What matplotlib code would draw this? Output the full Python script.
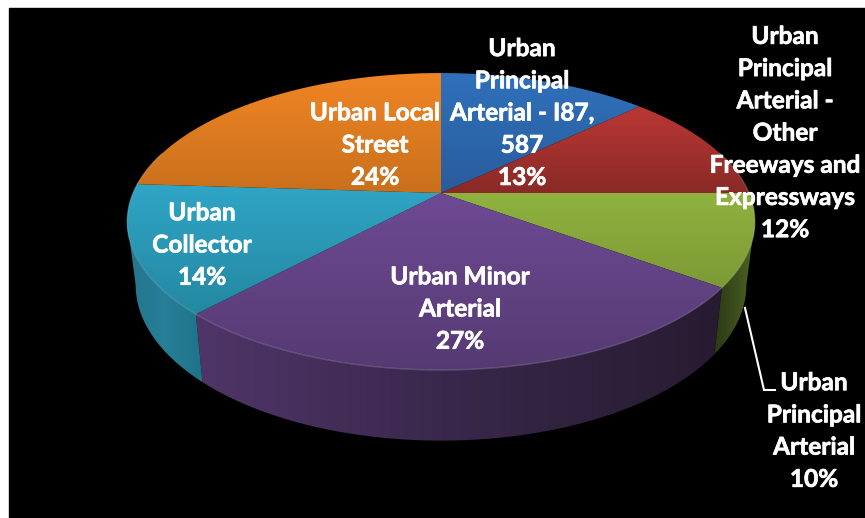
import numpy as np
import matplotlib
matplotlib.use("Agg")
import matplotlib.pyplot as plt
import matplotlib.patheffects as pe
from matplotlib.patches import Polygon

plt.rcParams['font.family'] = ['Lato', 'DejaVu Sans']

# Slices, clockwise from 12 o'clock
names = ["Urban\nPrincipal\nArterial - I87,\n587",
         "Urban\nPrincipal\nArterial -\nOther\nFreeways and\nExpressways",
         "Urban\nPrincipal\nArterial",
         "Urban Minor\nArterial",
         "Urban\nCollector",
         "Urban Local\nStreet"]
values = [13, 12, 10, 27, 14, 24]

# Top face gradients (upper colour, lower colour)
top_colors = [("#2f71bb", "#2a5c9c"), ("#bb3734", "#892a27"), ("#8fb23f", "#7c9a35"),
              ("#6e4a94", "#553a72"), ("#30a5c6", "#2488a2"), ("#f08524", "#c9701c")]
# Side wall shading, left to right
wall_colors = [("#1f4f85", "#1f4f85", "#1f4f85"), ("#7a2422", "#7a2422", "#7a2422"),
               ("#2c3a15", "#3b4d1c", "#4f6621"), ("#4f3568", "#38274a", "#271b30"),
               ("#23758c", "#277f98", "#1e7388"), ("#b5661a", "#b5661a", "#b5661a")]
# Label centres in picture pixels
label_pos = [(522, 113), (785, 133), (814, 431), (460, 309), (202, 245), (375, 145)]

cx, cy = 441, 193
rx, ay, k = 308, 143, 0.192
depth, bottom_scale, bottom_ay = 62, 0.973, 150
LEADER = [(745, 308), (764, 390), (775, 390)]


def top_point(theta):
    w = 1 + k * np.cos(theta)
    return cx + rx * np.sin(theta) / w, cy - ay * np.cos(theta) / w


def bottom_point(theta):
    w = 1 + k * np.cos(theta)
    return cx + rx * bottom_scale * np.sin(theta) / w, cy + depth - bottom_ay * np.cos(theta) / w


def rgb(c):
    return np.array(matplotlib.colors.to_rgb(c))


def gradient_fill(ax, pts, stops, vertical, zorder):
    # image gradient clipped to a polygon
    poly = Polygon(pts, closed=True, facecolor="none", edgecolor="none")
    ax.add_patch(poly)
    x0, x1, y0, y1 = pts[:, 0].min(), pts[:, 0].max(), pts[:, 1].min(), pts[:, 1].max()
    t = np.linspace(0, 1, 128)
    pos = np.linspace(0, 1, len(stops))
    cols = np.array([rgb(s) for s in stops])
    ramp = np.stack([np.interp(t, pos, cols[:, c]) for c in range(3)], axis=1)
    grad = ramp[:, None, :] if vertical else ramp[None, :, :]
    im = ax.imshow(grad, extent=[x0, x1, y1, y0], aspect="auto", zorder=zorder, interpolation="bilinear")
    im.set_clip_path(poly)


fig = plt.figure(figsize=(8.65, 5.18), dpi=100, facecolor="white")
ax = fig.add_axes([0, 0, 1, 1])
ax.set_axis_off()

# black panel
ax.add_patch(plt.Rectangle((9, 8), 856, 510, color="black", zorder=0))

edges = np.cumsum([0] + values) / sum(values) * 2 * np.pi
# angles where the wall meets the silhouette
wall_lo = np.arccos(-k)
wall_hi = 2 * np.pi - wall_lo

# Side walls
for i in range(len(values)):
    a0, a1 = max(edges[i], wall_lo), min(edges[i + 1], wall_hi)
    if a1 <= a0:
        continue
    th = np.linspace(a0, a1, 80)
    tx, ty = top_point(th)
    bx, by = bottom_point(th)
    pts = np.column_stack([np.r_[tx, bx[::-1]], np.r_[ty, by[::-1]]])
    gradient_fill(ax, pts, wall_colors[i], False, 1)

# Top faces
for i in range(len(values)):
    th = np.linspace(edges[i], edges[i + 1], 120)
    px, py = top_point(th)
    pts = np.column_stack([np.r_[cx, px], np.r_[cy, py]])
    gradient_fill(ax, pts, top_colors[i], True, 2)
    # thin lighter rim on the front edge
    front = th[(th > np.pi / 2 - 0.3) & (th < 3 * np.pi / 2 + 0.3)]
    if len(front) > 1:
        fx, fy = top_point(front)
        ax.plot(fx, fy, color=(rgb(top_colors[i][0]) + 1) / 2, lw=1, alpha=0.3, zorder=3)

ax.plot(*zip(*LEADER), color="white", lw=1.5, zorder=4, solid_joinstyle="miter")

total = sum(values)
for name, v, (lx, ly) in zip(names, values, label_pos):
    t = ax.text(lx, ly, f"{name}\n{round(v / total * 100)}%", color="white", fontsize=17.6,
                fontweight="bold", ha="center", va="center", multialignment="center",
                linespacing=1.485, zorder=5)
    t.set_path_effects([pe.withStroke(linewidth=0.5, foreground="white")])

ax.set_xlim(0, 865)
ax.set_ylim(518, 0)
fig.savefig("out.png", dpi=100, facecolor="white")
